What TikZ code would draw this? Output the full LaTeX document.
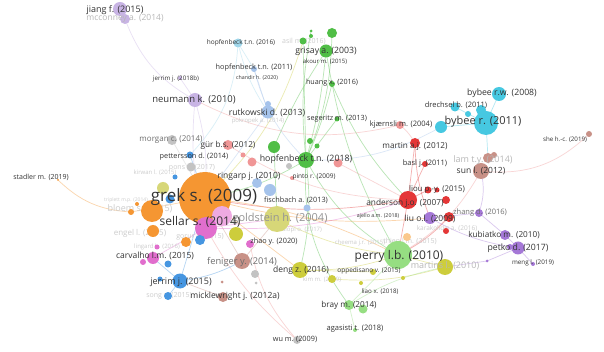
\documentclass[tikz,border=0pt]{standalone}
\usepackage{fontspec}
\setmainfont{Open Sans}
\definecolor{ink}{RGB}{51,51,51}
\definecolor{ink2}{RGB}{110,110,110}
\definecolor{orng}{RGB}{245,150,50}
\definecolor{lorng}{RGB}{250,200,140}
\definecolor{lav}{RGB}{200,180,228}
\definecolor{grn}{RGB}{80,190,70}
\definecolor{cyn}{RGB}{70,200,225}
\definecolor{lcyn}{RGB}{160,215,235}
\definecolor{rd}{RGB}{228,55,55}
\definecolor{lpnk}{RGB}{240,150,150}
\definecolor{blu}{RGB}{70,150,225}
\definecolor{lblu}{RGB}{165,195,235}
\definecolor{mag}{RGB}{225,110,205}
\definecolor{pnk}{RGB}{238,170,225}
\definecolor{olv}{RGB}{205,205,60}
\definecolor{lolv}{RGB}{215,215,120}
\definecolor{lgrn}{RGB}{150,222,130}
\definecolor{brn}{RGB}{200,145,135}
\definecolor{prp}{RGB}{165,120,215}
\definecolor{gry}{RGB}{195,195,195}
\pgfdeclarelayer{edges}
\pgfdeclarelayer{faded}
\pgfsetlayers{edges,faded,main}

\begin{document}
\begin{tikzpicture}[x=1pt, y=-1pt,
    bub/.style={circle, fill=#1, inner sep=0pt},
    lbl/.style={font=\fontsize{#1}{#1}\selectfont, text=ink, inner sep=0pt},
    grey/.style={lbl=#1, text=ink2},
    dim/.style={lbl=#1, text=black!20},
    edge/.style={draw=#1, opacity=0.4, line width=0.7pt}]
    \useasboundingbox (0,0) rectangle (604,352);
    \foreach \n/\x/\y/\d/\c in {stadler/58/180/2/orng, mcconney/125/19/10/lav, jiang/120/9/14/lav,
        jerrimb/180/78/4/lav, neumann/195/100/14/lav, hopfenbeckc/238/43/9/lcyn, hopfenbecka/254/69/6/lblu,
        rutkowskib/268/104/6/lblu, rutkowski/268/112/13/lblu, asil/303/41/7/grn, grnA/311/31/3/grn,
        grnB/311/36/4/grn, grnC/332/33/10/grn, grisay/326/51/13/grn, huang/332/84/6/grn,
        segeritz/337/119/5/grn, grnD/274/147/12/grn, grnE/310/141/6/grn, grnF/317/146/5/grn,
        hopfenbeckd/306/160/16/grn, kjaernsli/400/125/8/lpnk, gur/228/145/10/lpnk, pnkA/243/155/5/lpnk,
        pnkB/252/162/9/lpnk, pnkC/338/163/9/lpnk, pinto/292/178/4/lpnk, gryA/289/166/6/gry,
        morgan/172/140/10/gry, pons/191/167/9/gry, pettersson/190/155/7/blu, bluA/175/177/5/blu,
        bluB/170/199/9/blu, lblA/257/183/10/lblu, ringarp/270/190/12/lblu, fischbach/307/208/7/lblu,
        cynA/441/127/12/cyn, drechsel/455/107/9/cyn, cynB/468/114/6/cyn, cynC/481/110/10/cyn,
        bybeerw/499/94/14/cyn, bybee/486/123/24/cyn, martin/415/143/10/rd, basl/425/164/6/rd,
        liou/428/190/7/rd, rdA/437/190/5/rd, rdB/446/200/8/rd, rdC/449/217/10/rd, rdD/446/231/6/rd,
        anderson/408/200/18/rd, lam/488/158/10/brn, brnA/494/155/6/brn, sun/481/171/16/brn,
        she/589/134/6/brn, liu/430/218/12/prp, zhang/479/213/8/prp, kubiatko/505/235/10/prp,
        prpA/510/247/6/prp, petko/518/248/13/prp, meng/533/264/4/prp, prpB/487/261/3/prp,
        orngA/131/212/6/orng, orngB/137/204/4/orng, orngC/153/231/12/orng, orngD/186/242/10/orng,
        orngF/407/237/8/lorng, lolvA/163/188/12/lolv, orngG/152/211/22/orng, grek/205/198/52/orng,
        pnkD/222/216/20/pnk, sellar/206/228/22/mag, bluC/200/240/10/blu, lingard/157/247/5/mag,
        magA/143/262/6/mag, carvalho/153/258/12/mag, zhao/250/244/8/mag, olvA/236/234/14/olv,
        goldstein/277/219/26/lolv, bluD/168/264/7/blu, bluE/160/279/5/blu, jerrimc/180/281/15/blu,
        song/168/296/8/blu, brnB/222/282/3/brn, micklewright/223/297/10/brn, feniger/242/261/16/brn,
        gryB/255/274/8/gry, gryC/256/283/3/gry, deng/300/270/16/olv, olvB/332/279/8/olv,
        olvC/361/283/4/olv, oppedisano/373/272/6/olv, olvD/403/278/4/olv, martins/445/267/16/olv,
        perry/398/255/28/lgrn, bray/349/305/10/lgrn, lgrnA/363/309/9/lgrn, agasisti/355/330/4/lgrn,
        wu/297/340/8/gry}
        \node[bub=\c, minimum size=\d] (\n) at (\x,\y) {};
    \begin{pgfonlayer}{edges}
    \fill[white] (0,0) rectangle (604,352);
    \foreach \a/\b/\c/\k in {jiang/mcconney/lav/0, mcconney/neumann/lav/-20, jerrimb/neumann/lav/0,
        neumann/grek/lav/10, neumann/sellar/lav/-10, stadler/orngA/orng/-20, orngA/grek/orng/0,
        hopfenbeckc/hopfenbecka/lcyn/0, hopfenbeckc/pettersson/lcyn/20, hopfenbeckc/rutkowski/lcyn/-10,
        hopfenbecka/rutkowski/lblu/0, hopfenbecka/hopfenbeckd/lblu/-15, asil/grek/olv/15,
        asil/hopfenbeckd/grn/0, grisay/hopfenbeckd/grn/5, grisay/grnD/grn/-5, grnC/hopfenbeckd/grn/10,
        grnA/hopfenbeckd/grn/-8, huang/hopfenbeckd/grn/5, segeritz/hopfenbeckd/grn/0,
        grisay/perry/grn/-10, hopfenbeckd/perry/grn/-15, hopfenbeckd/bray/grn/-20,
        hopfenbeckd/deng/grn/10, hopfenbeckd/grek/grn/10, hopfenbeckd/cynA/lblu/-15,
        grnD/goldstein/grn/0, huang/anderson/grn/-10, neumann/kjaernsli/lpnk/-20,
        gur/anderson/lpnk/-15, pnkC/anderson/lpnk/0, kjaernsli/martin/lpnk/10, martin/anderson/rd/0,
        basl/anderson/rd/0, liou/anderson/rd/0, martin/liu/rd/-10, anderson/grek/rd/10,
        anderson/perry/rd/0, rdC/perry/rd/10, lam/bybee/cyn/0, drechsel/bybee/cyn/0,
        bybeerw/bybee/cyn/0, cynA/bybee/cyn/0, sun/she/lpnk/-25, sun/zhang/prp/15, sun/perry/lpnk/15,
        zhang/kubiatko/prp/0, kubiatko/petko/prp/0, petko/meng/prp/0, liu/petko/prp/-10,
        liu/zhang/prp/0, perry/martins/olv/0, martins/prpB/prp/0, prpB/petko/prp/0,
        deng/perry/olv/-10, deng/oppedisano/olv/0, olvB/martins/olv/-10, bray/perry/lgrn/0,
        agasisti/bray/lgrn/0, bray/martins/lgrn/10, wu/zhao/lpnk/15, wu/sellar/lpnk/10,
        jerrimc/grek/blu/0, jerrimc/feniger/blu/-10, jerrimc/carvalho/blu/0,
        micklewright/jerrimc/brn/0, feniger/grek/brn/0, feniger/goldstein/brn/0,
        carvalho/sellar/mag/0, rutkowski/grek/lblu/0, morgan/grek/gry/0, pettersson/grek/blu/0,
        sellar/goldstein/mag/0, grek/perry/orng/10, grek/deng/orng/0, grek/liu/orng/-10,
        sellar/anderson/mag/-10, goldstein/perry/olv/-10, song/jerrimc/blu/0}
        \draw[edge=\c] (\a.center) to[bend left=\k] (\b.center);
    \end{pgfonlayer}
    \begin{pgfonlayer}{faded}
    \foreach \n/\x/\y/\s/\t in {asil/304/41/7/{asil m. (2016)},
        pokropek/258/121/6/{pokropek a. (2014)}, pons/192/168/7/{pons x. (2017)},
        kirwan/155/173/6/{kirwan l. (2015)}, triplett/126/200/5/{triplett m.p. (2014)},
        bloem/140/209/9/{bloem s. (2015)}, alopi/302/230/6/{alopi o. (2017)},
        engel/140/233/8/{engel l. (2015)}, gorur/200/237/7/{gorur r. (2015)},
        lingard/157/247/6/{lingard b. (2016)}, cheema/360/243/6/{cheema j.r. (2015)},
        thien/410/241/7/{thien l.m. (2015)}, karakolidis/447/229/6.5/{karakolidis a. (2016)},
        kim/322/280/6/{kim m. (2009)}, song/169/296/7/{song s. (2015)}}
        \node[dim=\s] (t-\n) at (\x,\y) {\t};
    \end{pgfonlayer}
    \foreach \n/\x/\y/\s/\t in {mcconney/125/18/8.5/{mcconney a. (2014)}, lam/483/160/9/{lam t.y. (2014)},
        martins/445/266/9/{martins l. (2010)}}
        \node[dim=\s, text=black!28] (t-\n) at (\x,\y) {\t};
    \node[lbl=11, text=black!42] (t-goldstein) at (280,219) {goldstein h. (2004)};
    \foreach \n/\x/\y/\s/\t in {jiang/115/10/9/{jiang f. (2015)}, jerrimb/176/79/6.2/{jerrim j. (2018b)},
        neumann/194/100/9.5/{neumann k. (2010)}, hopfenbeckc/241/43/6.5/{hopfenbeck t.n. (2016)},
        grisay/326/51/8.7/{grisay a. (2003)}, akour/325/62/6/{akour m. (2015)},
        hopfenbecka/254/68/7.3/{hopfenbeck t.n. (2011)}, chandir/257/78/5.3/{chandir h. (2020)},
        huang/332/83/7.2/{huang x. (2016)}, rutkowski/267/113/8.6/{rutkowski d. (2013)},
        segeritz/337/119/7.2/{segeritz m. (2013)}, kjaernsli/401/125/7.5/{kjærnsli m. (2004)},
        bybeerw/502/93/8.7/{bybee r.w. (2008)}, drechsel/456/105/7.5/{drechsel b. (2011)},
        bybee/483/122/11/{bybee r. (2011)}, pettersson/194/157/7.3/{pettersson d. (2014)},
        gur/228/145/8.2/{gür b.s. (2012)}, martin/415/146/8.2/{martin a.j. (2012)},
        hopfenbeckd/306/159/8.8/{hopfenbeck t.n. (2018)}, ringarp/249/176/8.5/{ringarp j. (2010)},
        pinto/314/177/6.5/{pinto r. (2009)}, she/565/140/6.2/{she h.-c. (2019)},
        basl/425/164/7.5/{basl j. (2011)}, sun/481/171/8.5/{sun l. (2012)},
        grek/204/197/17/{grek s. (2009)}, stadler/41/177/7/{stadler m. (2019)},
        fischbach/296/200/7.3/{fischbach a. (2013)}, anderson/405/203/8.3/{anderson j.o. (2007)},
        liou/437/189/7.8/{liou p.-y. (2015)}, liu/430/219/8.5/{liu o.l. (2009)},
        ajello/378/216/5.3/{ajello a.m. (2018)}, sellar/200/222/12/{sellar s. (2014)},
        zhao/274/242/7.3/{zhao y. (2020)}, carvalho/155/256/8.5/{carvalho l.m. (2015)},
        perry/399/256/12/{perry l.b. (2010)}, kubiatko/504/235/8.2/{kubiatko m. (2010)},
        petko/518/248/8.7/{petko d. (2017)}, meng/533/263/6.3/{meng l. (2019)},
        deng/301/270/8.5/{deng z. (2016)}, oppedisano/369/271/6.5/{oppedisano v. (2015)},
        jerrimc/181/282/9/{jerrim j. (2015)}, micklewright/235/296/8.5/{micklewright j. (2012a)},
        liao/380/292/6.2/{liao x. (2018)}, bray/349/305/8.2/{bray m. (2014)},
        agasisti/355/329/7.5/{agasisti t. (2018)}, wu/295/339/7.3/{wu m. (2009)}}
        \node[lbl=\s] (t-\n) at (\x,\y) {\t};
    \foreach \n/\x/\y/\s/\t in {morgan/171/140/8/{morgan c. (2014)}, zhang/480/213/7.5/{zhang d. (2016)},
        feniger/242/262/9.3/{feniger y. (2014)}}
        \node[grey=\s] (t-\n) at (\x,\y) {\t};
\end{tikzpicture}
\end{document}
